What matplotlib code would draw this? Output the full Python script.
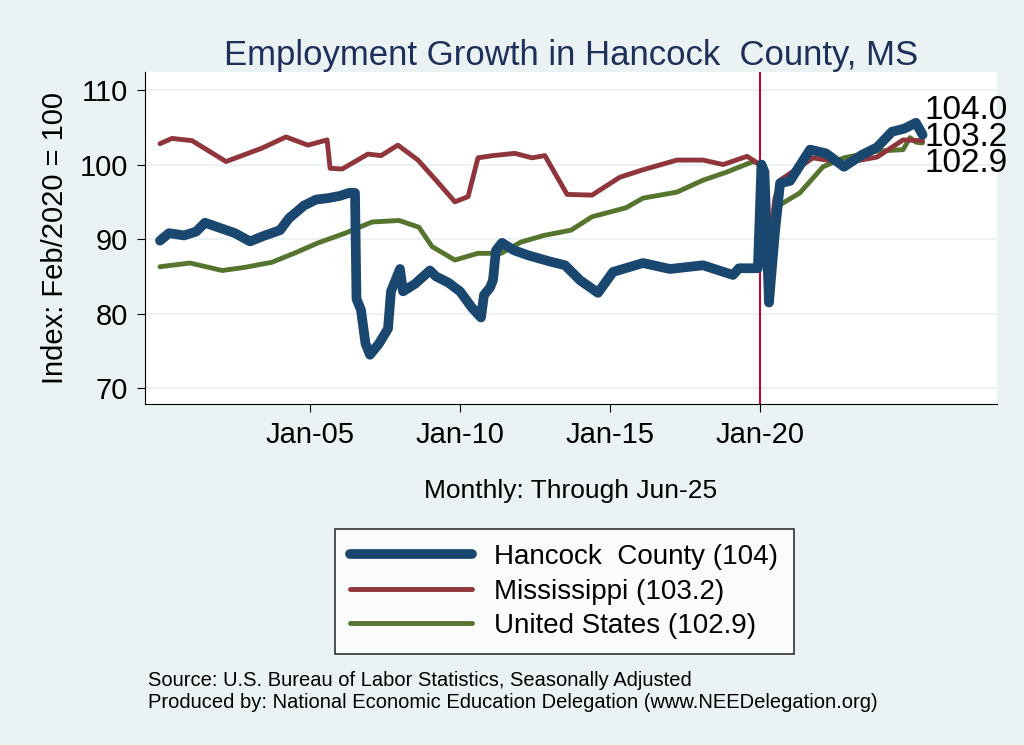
import numpy as np
import matplotlib.pyplot as plt

plt.rcParams['font.family'] = ['Liberation Sans', 'DejaVu Sans']

# breakpoints (decimal year, index value)
hancock_t = [2000.0, 2000.3, 2000.8, 2001.2, 2001.5, 2002.0, 2002.5, 2003.0, 2003.5, 2004.0,
             2004.3, 2004.8, 2005.2, 2005.6, 2006.0, 2006.3, 2006.5, 2006.55, 2006.7, 2006.85,
             2007.0, 2007.3, 2007.6, 2007.7, 2008.0, 2008.1, 2008.5, 2009.0, 2009.2, 2009.6,
             2010.0, 2010.4, 2010.7, 2010.8, 2011.0, 2011.1, 2011.2, 2011.4, 2011.8, 2012.3,
             2013.0, 2013.5, 2014.0, 2014.6, 2015.1, 2016.1, 2017.0, 2018.1, 2019.1, 2019.3,
             2019.93, 2020.05, 2020.15, 2020.3, 2020.5, 2020.67, 2021.0, 2021.67, 2022.2,
             2022.8, 2023.4, 2023.9, 2024.4, 2024.8, 2025.2, 2025.42]
hancock_v = [89.8, 90.8, 90.5, 91.0, 92.2, 91.5, 90.8, 89.7, 90.5, 91.2,
             92.8, 94.5, 95.3, 95.5, 95.8, 96.2, 96.2, 82.0, 80.5, 76.0,
             74.5, 76.0, 78.0, 83.0, 86.0, 83.0, 84.0, 85.8, 85.0, 84.2,
             83.0, 80.8, 79.5, 82.5, 83.5, 84.5, 88.5, 89.5, 88.5, 87.8,
             87.0, 86.5, 84.5, 82.8, 85.6, 86.8, 86.0, 86.5, 85.2, 86.1,
             86.1, 100.0, 99.0, 81.5, 91.0, 97.5, 97.8, 102.0, 101.5,
             99.7, 101.3, 102.3, 104.4, 104.8, 105.6, 104.0]

ms_t = [2000.0, 2000.4, 2001.07, 2002.2, 2003.4, 2004.2, 2004.93, 2005.57, 2005.67, 2006.07,
        2006.93, 2007.37, 2007.93, 2008.6, 2009.2, 2009.83, 2010.27, 2010.6, 2011.1, 2011.83,
        2012.4, 2012.83, 2013.17, 2013.57, 2014.4, 2015.33, 2016.1, 2017.23, 2018.1, 2018.77,
        2019.57, 2020.0, 2020.3, 2020.5, 2020.67, 2021.77, 2022.8, 2023.9, 2024.77, 2025.42]
ms_v = [102.8, 103.5, 103.2, 100.4, 102.2, 103.7, 102.6, 103.3, 99.5, 99.4,
        101.4, 101.2, 102.6, 100.6, 97.9, 95.0, 95.7, 100.9, 101.2, 101.5,
        100.9, 101.2, 98.8, 96.0, 95.9, 98.3, 99.3, 100.6, 100.6, 100.0,
        101.1, 100.0, 89.0, 95.5, 97.9, 100.9, 100.2, 101.0, 103.3, 103.2]

us_t = [2000.0, 2001.0, 2002.07, 2002.8, 2003.73, 2004.47, 2005.27, 2006.17, 2007.07, 2007.97,
        2008.63, 2009.07, 2009.83, 2010.6, 2011.37, 2012.03, 2012.8, 2013.7, 2014.4, 2015.53,
        2016.1, 2017.23, 2018.1, 2018.9, 2019.77, 2020.05, 2020.33, 2020.67, 2021.33, 2022.1,
        2022.8, 2023.9, 2024.77, 2025.0, 2025.2, 2025.42]
us_v = [86.3, 86.8, 85.8, 86.2, 86.9, 88.1, 89.5, 90.8, 92.3, 92.5,
        91.6, 89.0, 87.2, 88.1, 88.1, 89.6, 90.5, 91.2, 93.0, 94.2,
        95.5, 96.3, 97.9, 99.0, 100.4, 100.0, 84.0, 94.6, 96.2, 99.7,
        100.9, 101.8, 102.0, 103.6, 103.0, 102.9]

series = [("Hancock  County (104)", hancock_t, hancock_v, '#1a476f', 7, "104.0", 107.2),
          ("Mississippi (103.2)", ms_t, ms_v, '#90353b', 3.5, "103.2", 103.6),
          ("United States (102.9)", us_t, us_v, '#55752f', 3.5, "102.9", 100.2)]
xticks = [2005, 2010, 2015, 2020]
xlabels = ["Jan-05", "Jan-10", "Jan-15", "Jan-20"]
yticks = [70, 80, 90, 100, 110]

fig = plt.figure(figsize=(10.24, 7.45), dpi=100, facecolor='#eaf2f3')
ax = fig.add_axes([0.1416, 0.4577, 0.832, 0.4456])
ax.set_facecolor('white')
for y in yticks:
    ax.axhline(y, color='#eaf2f3', lw=1.5, zorder=0)
ax.axvline(2020.0, color='#c10534', lw=1.5, zorder=1)

handles = []
for name, t, v, c, lw, lab, ly in reversed(series):
    h, = ax.plot(t, v, color=c, lw=lw, label=name, solid_capstyle='round', zorder=2)
    handles.insert(0, h)
    ax.text(2025.5, ly, lab, fontsize=24, va='center', ha='left', clip_on=False)

ax.set_xlim(1999.5, 2027.9)
ax.set_ylim(67.9, 112.4)
ax.set_xticks(xticks)
ax.set_xticklabels(xlabels, fontsize=21)
ax.set_yticks(yticks)
ax.set_yticklabels([str(y) for y in yticks], fontsize=21)
ax.tick_params(length=6, pad=6)
for s in ['top', 'right']:
    ax.spines[s].set_visible(False)
ax.set_ylabel("Index: Feb/2020 = 100", fontsize=21, labelpad=8)
ax.set_xlabel("Monthly: Through Jun-25", fontsize=19, labelpad=22)
ax.set_title("Employment Growth in Hancock  County, MS", fontsize=25, color='#1e2f5a', pad=4)

leg = fig.legend(handles=handles, loc='center', bbox_to_anchor=(0.551, 0.206), fontsize=20,
                 frameon=True, fancybox=False, edgecolor='black', handlelength=4.4,
                 borderpad=0.55, labelspacing=0.3)
leg.get_frame().set_linewidth(1.2)

fig.text(0.145, 0.079, "Source: U.S. Bureau of Labor Statistics, Seasonally Adjusted", fontsize=14.5)
fig.text(0.145, 0.05, "Produced by: National Economic Education Delegation (www.NEEDelegation.org)", fontsize=14.5)

fig.savefig("out.png", dpi=100, facecolor=fig.get_facecolor())
